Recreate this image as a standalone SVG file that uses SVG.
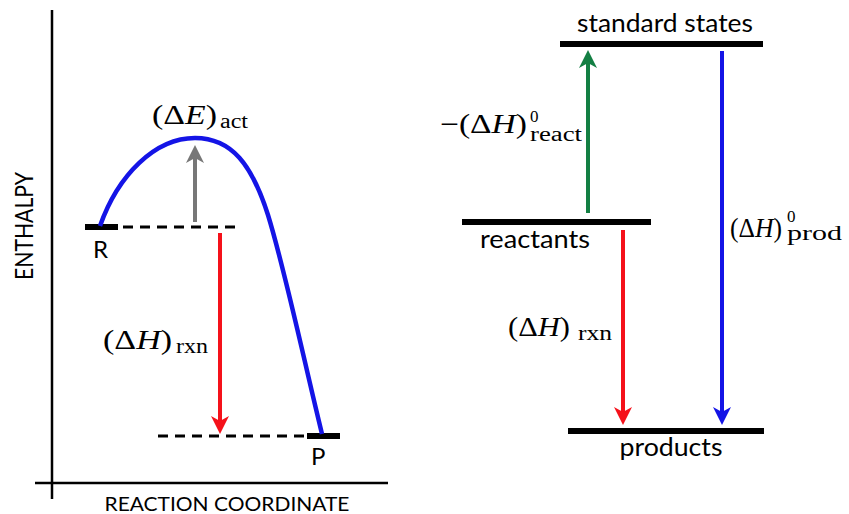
<svg xmlns="http://www.w3.org/2000/svg" width="849" height="514" viewBox="0 0 849 514">
<style>
.axis{stroke:#000;stroke-width:2.5;fill:none}
.bar{stroke:#000;stroke-width:6;fill:none}
.dash{stroke:#000;stroke-width:3;stroke-dasharray:10 7;fill:none}
.arr{stroke-width:4;fill:none}
.lbl{font-family:"Lato","Liberation Sans",sans-serif;fill:#000}
.math{font-family:"Liberation Serif","DejaVu Serif",serif;fill:#000;font-size:27px}
.sub{font-family:"Liberation Serif","DejaVu Serif",serif;fill:#000;font-size:20px}
.sup{font-family:"Liberation Serif","DejaVu Serif",serif;fill:#000;font-size:17px}
.it{font-style:italic}
</style>
<defs>
<marker id="hGray" markerUnits="userSpaceOnUse" viewBox="0 0 18 18" markerWidth="18" markerHeight="18" refX="10" refY="9" orient="auto"><path d="M0,0 L18,9 L0,18 L5,9 Z" fill="#777"/></marker>
<marker id="hRed" markerUnits="userSpaceOnUse" viewBox="0 0 18 18" markerWidth="18" markerHeight="18" refX="10" refY="9" orient="auto"><path d="M0,0 L18,9 L0,18 L5,9 Z" fill="#f5111a"/></marker>
<marker id="hBlue" markerUnits="userSpaceOnUse" viewBox="0 0 18 18" markerWidth="18" markerHeight="18" refX="10" refY="9" orient="auto"><path d="M0,0 L18,9 L0,18 L5,9 Z" fill="#1414e6"/></marker>
<marker id="hGreen" markerUnits="userSpaceOnUse" viewBox="0 0 18 18" markerWidth="18" markerHeight="18" refX="10" refY="9" orient="auto"><path d="M0,0 L18,9 L0,18 L5,9 Z" fill="#137f43"/></marker>
</defs>

<g id="axes">
<line class="axis" x1="52" y1="10" x2="52" y2="499"/>
<line class="axis" x1="35" y1="483" x2="388" y2="483"/>
<text class="lbl" x="227" y="511" font-size="19" text-anchor="middle" textLength="245" lengthAdjust="spacingAndGlyphs">REACTION COORDINATE</text>
<text class="lbl" transform="translate(33,226) rotate(-90)" x="0" y="0" font-size="25" text-anchor="middle" textLength="108" lengthAdjust="spacingAndGlyphs">ENTHALPY</text>
</g>

<g id="node-R">
<line class="bar" x1="85" y1="227" x2="118" y2="227"/>
<text class="lbl" x="93" y="258" font-size="24">R</text>
</g>
<g id="node-P">
<line class="bar" x1="307" y1="436" x2="340" y2="436"/>
<text class="lbl" x="311" y="465" font-size="24">P</text>
</g>

<g id="node-standard-states">
<line class="bar" x1="560" y1="44" x2="763" y2="44"/>
<text class="lbl" x="665" y="32" font-size="25" text-anchor="middle" textLength="176" lengthAdjust="spacingAndGlyphs">standard states</text>
</g>
<g id="node-reactants">
<line class="bar" x1="462" y1="222" x2="651" y2="222"/>
<text class="lbl" x="535" y="248" font-size="25" text-anchor="middle" textLength="110" lengthAdjust="spacingAndGlyphs">reactants</text>
</g>
<g id="node-products">
<line class="bar" x1="568" y1="431" x2="764" y2="431"/>
<text class="lbl" x="671" y="456" font-size="25" text-anchor="middle" textLength="103" lengthAdjust="spacingAndGlyphs">products</text>
</g>

<g id="connectors">
<line class="dash" x1="123" y1="227" x2="242" y2="227"/>
<line class="dash" x1="158" y1="436" x2="305" y2="436"/>
<path d="M100,226 C118,175 155,138 195,138 C232,138 252,165 268,215 C285,270 305,365 322,434" stroke="#1414e6" stroke-width="4.5" fill="none"/>
<line class="arr" x1="195" y1="222" x2="195" y2="153" stroke="#777" marker-end="url(#hGray)"/>
<line class="arr" x1="220" y1="233" x2="220" y2="426" stroke="#f5111a" marker-end="url(#hRed)"/>
<line class="arr" x1="588" y1="213" x2="588" y2="58" stroke="#137f43" marker-end="url(#hGreen)"/>
<line class="arr" x1="623" y1="230" x2="623" y2="417" stroke="#f5111a" marker-end="url(#hRed)"/>
<line class="arr" x1="722" y1="51" x2="722" y2="417" stroke="#1414e6" marker-end="url(#hBlue)"/>
</g>

<g id="labels">
<text class="math" x="152" y="124" textLength="65" lengthAdjust="spacingAndGlyphs">(Δ<tspan class="it">E</tspan>)</text>
<text class="sub" x="220" y="128" textLength="28" lengthAdjust="spacingAndGlyphs">act</text>
<text class="math" x="103" y="349" textLength="69" lengthAdjust="spacingAndGlyphs">(Δ<tspan class="it">H</tspan>)</text>
<text class="sub" x="176" y="353" textLength="32" lengthAdjust="spacingAndGlyphs">rxn</text>
<text class="math" x="508" y="336" textLength="62" lengthAdjust="spacingAndGlyphs">(Δ<tspan class="it">H</tspan>)</text>
<text class="sub" x="578" y="340" textLength="34" lengthAdjust="spacingAndGlyphs">rxn</text>
<text class="math" x="440" y="133" textLength="87" lengthAdjust="spacingAndGlyphs">−(Δ<tspan class="it">H</tspan>)</text>
<text class="sup" x="530" y="122">0</text>
<text class="sub" x="530" y="141" textLength="52" lengthAdjust="spacingAndGlyphs">react</text>
<text class="math" x="730" y="237" textLength="52" lengthAdjust="spacingAndGlyphs">(Δ<tspan class="it">H</tspan>)</text>
<text class="sup" x="787" y="222">0</text>
<text class="sub" x="787" y="240" textLength="55" lengthAdjust="spacingAndGlyphs">prod</text>
</g>
</svg>
